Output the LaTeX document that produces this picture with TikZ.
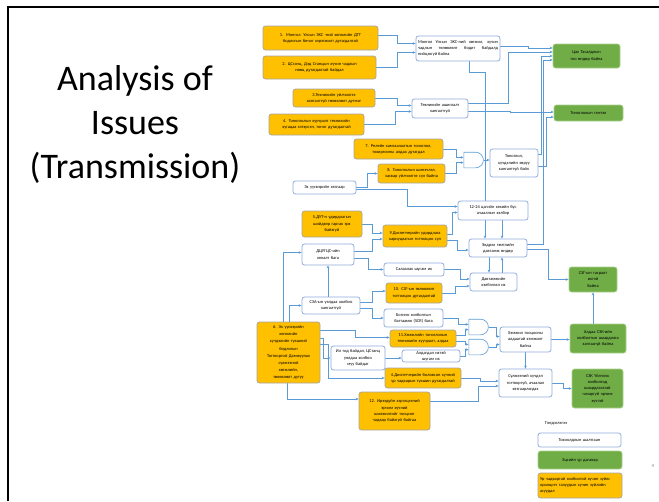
\documentclass[tikz,border=0pt]{standalone}
\usepackage{fontspec}
\setmainfont{Carlito}
\usetikzlibrary{calc,arrows.meta,shapes.gates.logic.US,backgrounds}

\definecolor{linecol}{HTML}{5B9BD5}
\definecolor{causefill}{HTML}{FFC000}
\definecolor{causeedge}{HTML}{A5A5A5}
\definecolor{effectfill}{HTML}{70AD47}
\definecolor{effectedge}{HTML}{A9D18E}
\definecolor{midedge}{HTML}{8FAADC}

\tikzset{
  basebox/.style={rounded corners=2.5pt, inner sep=0pt, align=center,
    font=\fontsize{4.4}{6.2}\selectfont},
  causebox/.style={basebox, fill=causefill, draw=causeedge, line width=0.7pt},
  midbox/.style={basebox, fill=white, draw=midedge, line width=0.8pt},
  effectbox/.style={basebox, fill=effectfill, draw=effectedge, line width=0.7pt},
  conn/.style={draw=linecol, line width=0.55pt, -{Stealth[length=3pt,width=2.6pt]}},
  andgate/.style={and gate US, draw=linecol, fill=white, line width=0.6pt,
    minimum width=11pt, minimum height=10pt, inner sep=0pt},
}

% box from its corners: name, style, x1, y1, x2, y2, text
\newcommand\boxat[7]{%
  \pgfmathsetmacro\boxw{#5-#3}%
  \pgfmathsetmacro\boxh{#6-#4}%
  \pgfmathsetmacro\boxtw{#5-#3-4}%
  \node[#2, minimum width=\boxw pt, minimum height=\boxh pt, text width=\boxtw pt]
    (#1) at ({(#3+#5)/2},{(#4+#6)/2}) {#7};}

\begin{document}
\begin{tikzpicture}[x=1pt,y=-1pt]
\useasboundingbox (0,0) rectangle (659,501);

% slide frame and page number
\draw[line width=1.8pt] (8,501) -- (8,7) -- (659,7);
\node[font=\fontsize{5}{6}\selectfont, text=black!50] (pagenum) at (653,466) {4};

% title
\node[font=\fontsize{36}{44}\selectfont, align=center] (title) at (135,124)
  {Analysis of\\Issues\\(Transmission)};

% root causes
\boxat{b1}{causebox}{263}{26}{378}{50}{1.\ \ Монгол \ Улсын ЭХС -ний хөгжлийн ДТТ\\ бодлогын бичиг хэрэгжилт дутагдалтай}
\boxat{b2}{causebox}{263}{56}{376}{79}{2. ЦСтанц, Дэд Станцын хүчин чадлын\\ нөөц дутагдалтай байдал}
\boxat{b3}{causebox}{293}{89}{375}{107}{3.Техникийн үйлчилгээ\\ хангалтгүй төлөвлөлт дутмаг}
\boxat{b4}{causebox}{269}{114}{364}{135}{4. Тоноглолын хуучралт техникийн\\ хугацаа хэтэрсэн, тоног дутагдалтай}
\boxat{b7}{causebox}{354}{139}{443}{159}{7. Релейн хамгаалалтын тоноглол,\\ тохиргооны алдаа дутагдал}
\boxat{b8}{causebox}{378}{164}{445}{183}{8. Тоноглолын шинэчлэл,\\ засвар үйлчилгээ сул байна}
\boxat{b5}{causebox}{302}{211}{362}{237}{5.ДУТ-н удирдлагын\\ шийдвэр гаргах эрх\\ байхгүй}
\boxat{b9}{causebox}{383}{225}{447}{247}{9.Диспетчерийн удирдлага\\ хариуцлагын тогтолцоо сул}
\boxat{b10}{causebox}{386}{283}{442}{303}{10. СЗГ-ын төлөвлөлт\\ тогтолцоо дутагдалтай}
\boxat{b11}{causebox}{390}{330}{456}{347}{11.Хэмжлийн тоноглолын\\ техникийн хуучралт, алдаа}
\boxat{b6}{causebox, font=\fontsize{4.4}{7.2}\selectfont}{257}{322}{320}{383}{6. Эх үүсвэрийн\\ хөгжлийн\\ хүчдэлийн түвшний\\ бодлогын\\ Тогтвортой Дамжуулах\\ сүлжээний\\ хөгжлийн,\\ төлөвлөлт дутуу}
\boxat{m4}{causebox}{385}{368}{461}{388}{4.Диспетчерийн боловсон хүчний\\ ур чадварын түвшин дутагдалтай}
\boxat{b12}{causebox}{359}{392}{430}{430}{12. Ирээдүйн хэрэгцээний\\ эрчим хүчний\\ шилжилтийг тооцсон\\ чадвар байхгүй байгаа}

% intermediate causes
\boxat{a}{midbox, align=justify}{416}{36}{500}{61}{Монгол Улсын ЭХС-ний хөгжил, хүчин чадлын төлөвлөлт бодит байдалд нийцэхгүй байна}
\boxat{wb}{midbox}{412}{99}{468}{118}{Техникийн ашиглалт\\ хангалтгүй}
\boxat{f}{midbox}{490}{149}{538}{177}{Тоноглол,\\ хүчдэлийн зөрүү\\ хангалтгүй байх}
\boxat{c}{midbox}{293}{181}{356}{194}{Эх үүсвэрийн хязгаар}
\boxat{e}{midbox}{458}{201}{528}{220}{12-24 цагийн хэвийн бус\\ ачааллын хэлбэр}
\boxat{z}{midbox}{469}{239}{527}{257}{Эвдрэл гэмтлийн\\ давтамж өндөр}
\boxat{d}{midbox}{302}{244}{354}{265}{ДЦУГЦС-ийн\\ хяналт бага}
\boxat{h}{midbox}{384}{263}{444}{276}{Салаалах шугам их}
\boxat{x}{midbox}{470}{273}{517}{291}{Давтамжийн\\ хэлбэлзэл их}
\boxat{i}{midbox}{302}{297}{360}{314}{СЗА-ын уялдаа холбоо\\ хангалтгүй}
\boxat{j}{midbox}{384}{309}{443}{327}{Богино холболтын\\ багтаамж (SCR) бага}
\boxat{k}{midbox}{331}{346}{385}{370}{Ил тод байдал, ЦСтанц\\ уялдаа холбоо\\ муу байдаг}
\boxat{l}{midbox}{402}{350}{460}{362}{Алдагдал ихтэй\\ шугам их}
\boxat{n}{midbox}{500}{327}{551}{352}{Хэмжил тооцооны\\ алдаатай хэмжилт\\ байна}
\boxat{o}{midbox}{499}{369}{552}{397}{Сүлжээний хүчдэл\\ тогтворгүй, ачаалал\\ хязгаарлагдах}

% consequences
\boxat{g1}{effectbox}{553}{44}{620}{68}{Цах Тасалдлын\\ тоо өндөр байна}
\boxat{g2}{effectbox}{554}{105}{623}{121}{Тоноглолын гэмтэл}
\boxat{g3}{effectbox}{569}{267}{617}{292}{СЗГ-ын тасралт\\ ихтэй\\ байна}
\boxat{g4}{effectbox}{570}{324}{626}{353}{Алдаа СЗК-ийн\\ холболтын шаардлага\\ хангаагүй байна}
\boxat{g5}{effectbox}{572}{369}{623}{408}{СЗК Үйлчлэх\\ холболтод\\ шаардлагатай\\ чанаргүй эрчим\\ хүчтэй}

% logic gates
\node[andgate] (ag1) at (473,160) {};
\node[andgate] (ag2) at (478,327) {};
\node[andgate] (ag3) at (478,347) {};

% legend
\node[font=\fontsize{4.4}{6}\selectfont] (legtitle) at (556,423) {Тэмдэглэгээ};
\boxat{lw}{midbox}{538}{433}{621}{447}{Тохиолдлын шалтгаан}
\boxat{lg}{effectbox}{538}{451}{622}{469}{Эцсийн үр дагавар}
\boxat{lo}{causebox, align=left}{538}{473}{622}{498}{Ур чадвартай холбоотой хүчин зүйлс\\ оролцогч талуудын хүчин зүйлийн\\ асуудал}

\begin{pgfonlayer}{background}
% top block
\draw[conn] ($(b1.east)+(0,-3)$) -- ++(19,0) |- ($(a.west)+(0,-5)$);
\draw[conn] (b2.east) -- ++(21,0) |- ($(a.west)+(0,4)$);
\draw[conn] (b3.east) -- ++(22,0) |- ($(wb.west)+(0,-3)$);
\draw[conn] (b4.east) -- ++(31,0) |- ($(wb.west)+(0,3)$);
\draw[conn] ($(a.east)+(0,-2)$) -- ++(28,0) |- ($(g1.west)+(0,-8)$);
\draw[conn] ($(wb.east)+(0,-5)$) -- ++(40,0) |- ($(g1.west)+(0,-4)$);
\draw[conn] ($(wb.east)+(0,3)$) -- ++(42,0) |- ($(g2.west)+(0,-1)$);
\draw[conn] ($(f.east)+(0,-9)$) -- ++(3,0) |- (g1.west);
\draw[conn] ($(f.east)+(0,3)$) -- ++(8,0) |- ($(g2.west)+(0,4)$);
\draw[conn] ($(z.east)+(0,-4)$) -- ++(16,0) |- ($(g1.west)+(0,4)$);
\draw[conn] ($(z.east)+(0,1)$) -- ++(21,0) |- (g3.west);
% gate 1
\draw[conn] (b7.east) -- ++(13,0) |- (ag1.input 1);
\draw[conn] (b8.east) -- ++(11,0) |- (ag1.input 2);
\draw[conn] (ag1.output) -- (ag1.output -| f.west);
% middle block
\draw[conn] (c.east) -- ++(11,0) |- (b8.west);
\draw[conn] ($(c.east)+(0,2)$) -- ++(51,0) |- ($(e.west)+(0,-4)$);
\draw[conn] ($(b9.east)+(0,-2)$) -- ++(5,0) |- ($(e.west)+(0,2)$);
\draw[conn] ($(b9.east)+(0,4)$) -- ++(10,0) |- ($(z.west)+(0,2)$);
\draw[conn] ($(a.south)+(11,0)$) -- ++(0,11) -| ($(z.north)+(-13,0)$);
\draw[conn] ($(e.south)+(9,0)$) -- ($(z.north)+(4,0)$);
\draw[conn] ($(z.south)+(-9,0)$) -- ($(x.north)+(-4.5,0)$);
\draw[conn] ($(x.north)+(8.5,0)$) -- ($(z.south)+(4,0)$);
\draw[conn] (b5.east) -- ++(10,0) |- ($(b9.west)+(0,-3)$);
\draw[conn] ($(d.east)+(0,-3)$) -- ++(18,0) |- ($(b9.west)+(0,3)$);
\draw[conn] ($(d.east)+(0,4)$) -- ++(14,0) |- (h.west);
\draw[conn] (h.east) -- ++(16,0) |- ($(x.west)+(0,-3)$);
\draw[conn] (b10.east) -- ++(13,0) |- ($(x.west)+(0,4)$);
\draw[conn] ($(i.north)+(-3,0)$) -- (d.south);
\draw[conn] ($(i.east)+(0,-3)$) -- ++(12,0) |- ($(b10.west)+(0,-2)$);
\draw[conn] ($(i.east)+(0,3)$) -- ++(12,0) |- (j.west);
% from cause 6
\draw[conn] ($(b6.north)+(-5,0)$) |- ($(d.west)+(0,-2)$);
\draw[conn] ($(b6.north)+(1,0)$) |- (i.west);
\draw[conn] ($(b6.east)+(0,-22)$) -- ++(35,0) |- ($(b11.west)+(0,-1)$);
\draw[conn] ($(b6.east)+(0,-14)$) -- ++(3,0) |- (k.west);
\draw[conn] ($(b6.east)+(0,-8)$) -- ++(8,0) |- (m4.west);
\draw[conn] ($(b6.south)+(-1,0)$) |- ($(b12.west)+(0,-12)$);
\draw[conn] (k.east) -- (k.east -| l.west);
% gates 2 and 3
\draw[conn] (j.east) -- ++(15,0) |- (ag2.input 1);
\draw[conn] ($(b11.east)+(0,-3)$) -- ++(9,0) |- (ag2.input 2);
\draw[conn] ($(b11.east)+(0,3)$) -- ++(9,0) |- (ag3.input 1);
\draw[conn] (l.east) -- ++(5,0) |- (ag3.input 2);
\draw[conn] (ag2.output) -- ++(8,0) |- ($(n.west)+(0,-3)$);
\draw[conn] (ag3.output) -- ++(8,0) |- ($(n.west)+(0,5)$);
% lower right
\draw[conn] (n.east) -- (n.east -| g4.west);
\draw[conn] (n.south) -- (o.north);
\draw[conn] ($(g4.north)+(-5,0)$) -- (g3.south);
\draw[conn] (m4.east) -- ++(19,0) |- ($(o.west)+(0,-2)$);
\draw[conn] ($(b12.east)+(0,-10)$) -- ++(48,0) |- ($(o.west)+(0,3)$);
\draw[conn] (o.east) -- ++(11,0) |- (g5.west);
\end{pgfonlayer}
\end{tikzpicture}
\end{document}
